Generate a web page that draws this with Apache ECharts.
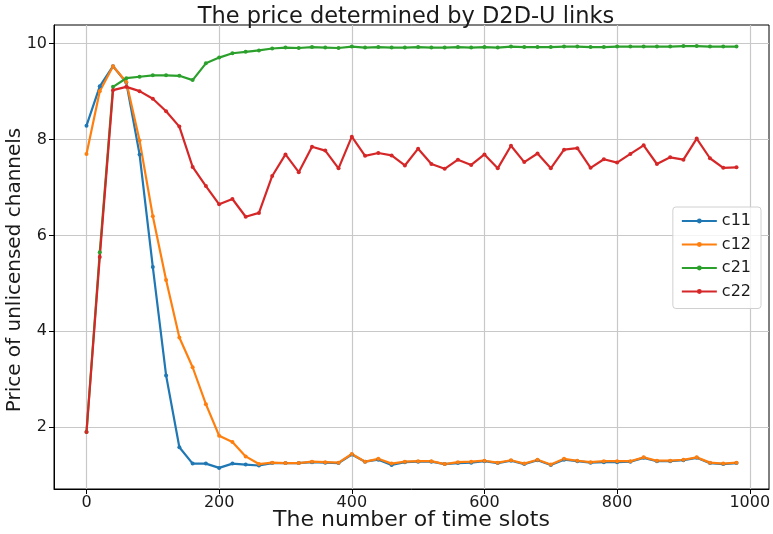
<!DOCTYPE html>
<html>
<head>
<meta charset="utf-8">
<script src="https://cdn.jsdelivr.net/npm/echarts@6/dist/echarts.min.js"></script>
<style>
  html, body { margin: 0; padding: 0; background: #fff; }
  #chart { width: 773px; height: 534px; }
</style>
</head>
<body>
<div id="chart"></div>
<script>
// time slots
var slots = [0, 20, 40, 60, 80, 100, 120, 140, 160, 180,
  200, 220, 240, 260, 280, 300, 320, 340, 360, 380,
  400, 420, 440, 460, 480, 500, 520, 540, 560, 580,
  600, 620, 640, 660, 680, 700, 720, 740, 760, 780,
  800, 820, 840, 860, 880, 900, 920, 940, 960, 980];

var c11 = [8.29, 9.11, 9.53, 9.19, 7.69, 5.34, 3.08, 1.58, 1.24, 1.24,
  1.15, 1.24, 1.22, 1.20, 1.25, 1.25, 1.25, 1.27, 1.26, 1.25,
  1.43, 1.28, 1.32, 1.21, 1.27, 1.28, 1.28, 1.23, 1.25, 1.26,
  1.29, 1.25, 1.30, 1.23, 1.31, 1.21, 1.32, 1.29, 1.26, 1.27,
  1.27, 1.28, 1.36, 1.29, 1.29, 1.31, 1.36, 1.25, 1.23, 1.25];

var c12 = [7.70, 9.01, 9.53, 9.20, 7.98, 6.40, 5.07, 3.87, 3.25, 2.48,
  1.82, 1.69, 1.39, 1.23, 1.26, 1.25, 1.25, 1.28, 1.27, 1.26,
  1.44, 1.28, 1.34, 1.24, 1.28, 1.29, 1.29, 1.23, 1.27, 1.28,
  1.30, 1.26, 1.31, 1.24, 1.32, 1.22, 1.34, 1.30, 1.27, 1.29,
  1.29, 1.29, 1.37, 1.30, 1.30, 1.32, 1.37, 1.26, 1.24, 1.26];

var c21 = [1.90, 5.65, 9.10, 9.28, 9.31, 9.34, 9.34, 9.33, 9.24, 9.59,
  9.71, 9.80, 9.83, 9.86, 9.90, 9.92, 9.91, 9.93, 9.92, 9.91,
  9.94, 9.92, 9.93, 9.92, 9.92, 9.93, 9.92, 9.92, 9.93, 9.92,
  9.93, 9.92, 9.94, 9.93, 9.93, 9.93, 9.94, 9.94, 9.93, 9.93,
  9.94, 9.94, 9.94, 9.94, 9.94, 9.95, 9.95, 9.94, 9.94, 9.94];

var c22 = [1.90, 5.55, 9.03, 9.10, 9.01, 8.85, 8.59, 8.27, 7.43, 7.03,
  6.65, 6.76, 6.39, 6.47, 7.24, 7.69, 7.32, 7.85, 7.77, 7.40,
  8.06, 7.66, 7.72, 7.67, 7.46, 7.81, 7.49, 7.39, 7.58, 7.47,
  7.69, 7.40, 7.87, 7.53, 7.71, 7.40, 7.79, 7.82, 7.41, 7.59,
  7.52, 7.70, 7.88, 7.49, 7.63, 7.58, 8.02, 7.61, 7.41, 7.42];

var xTicks = [0, 200, 400, 600, 800, 1000];
var yTicks = [2, 4, 6, 8, 10];

var seriesNames = ['c11', 'c12', 'c21', 'c22'];
var seriesData = [c11, c12, c21, c22];
var colors = ['#1f77b4', '#ff7f0e', '#2ca02c', '#d62728'];

var FONT = 'DejaVu Sans';
var INK = '#1a1a1a';

function pairs(vals) {
  return slots.map(function (x, i) { return [x, vals[i]]; });
}

var chart = echarts.init(document.getElementById('chart'));

var option = {
  backgroundColor: '#fff',
  animation: false,
  textStyle: { fontFamily: FONT },
  title: {
    text: 'The price determined by D2D-U links',
    left: 401, top: 1, textAlign: 'center',
    textStyle: { fontFamily: FONT, fontSize: 22.5, fontWeight: 'normal', color: INK }
  },
  grid: {
    left: 54, top: 25, right: 4, bottom: 45,
    containLabel: false,
    outerBoundsMode: 'none',
    show: true, borderColor: '#000', borderWidth: 1, backgroundColor: 'transparent'
  },
  legend: {
    orient: 'vertical',
    right: 12, top: 207,
    data: seriesNames,
    itemWidth: 35, itemHeight: 6, itemGap: 7.5,
    padding: [6, 10, 9, 8],
    borderColor: '#d0d0d0', borderWidth: 1, borderRadius: 3,
    backgroundColor: 'rgba(255,255,255,0.8)',
    textStyle: { fontFamily: FONT, fontSize: 16, color: INK }
  },
  xAxis: {
    type: 'value',
    min: -49, max: 1029,
    name: 'The number of time slots',
    nameLocation: 'middle', nameGap: 20, nameMoveOverlap: false,
    nameTextStyle: { fontFamily: FONT, fontSize: 22, color: INK },
    axisLine: { show: true, onZero: false, lineStyle: { color: '#000', width: 1 } },
    axisTick: { show: true, customValues: xTicks, length: 5, lineStyle: { color: '#000' } },
    axisLabel: {
      customValues: xTicks, fontFamily: FONT, fontSize: 16, color: INK, margin: 6,
      formatter: function (v) { return String(v); }
    },
    splitLine: { show: true, lineStyle: { color: '#c8c8c8', width: 1.2 } }
  },
  yAxis: {
    type: 'value',
    min: 0.71, max: 10.39,
    name: 'Price of unlicensed channels',
    nameLocation: 'middle', nameGap: 29, nameMoveOverlap: false,
    nameTextStyle: { fontFamily: FONT, fontSize: 20, color: INK, padding: [0, 26, 0, 0] },
    axisLine: { show: true, onZero: false, lineStyle: { color: '#000', width: 1 } },
    axisTick: { show: true, customValues: yTicks, length: 5, lineStyle: { color: '#000' } },
    axisLabel: {
      customValues: yTicks, fontFamily: FONT, fontSize: 16, color: INK, margin: 7,
      formatter: function (v) { return String(v); }
    },
    splitLine: { show: true, lineStyle: { color: '#c8c8c8', width: 1.2 } }
  },
  series: seriesNames.map(function (name, i) {
    return {
      name: name,
      type: 'line',
      data: pairs(seriesData[i]),
      symbol: 'circle',
      symbolSize: 4,
      showSymbol: true,
      color: colors[i],
      lineStyle: { width: 2.2, color: colors[i] },
      itemStyle: { color: colors[i] }
    };
  })
};

chart.setOption(option);
</script>
</body>
</html>
